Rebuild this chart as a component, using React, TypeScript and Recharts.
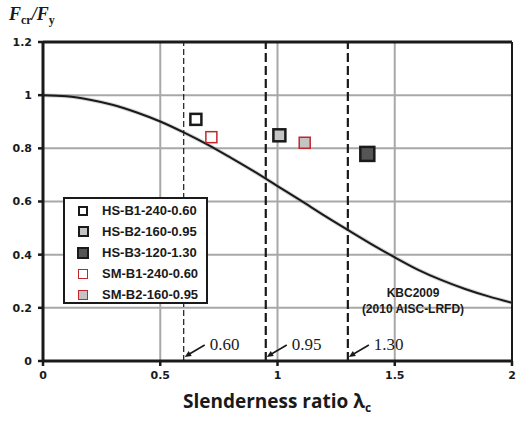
import React from "react";
import {
  ComposedChart,
  Line,
  Scatter,
  XAxis,
  YAxis,
  CartesianGrid,
  ReferenceLine,
  Label,
} from "recharts";

// design curve (KBC2009 / AISC-LRFD)
const lambdaC = [0, 0.1, 0.2, 0.3, 0.4, 0.5, 0.6, 0.7, 0.8, 0.9, 1.0, 1.1, 1.2, 1.3, 1.4, 1.5, 1.6, 1.7, 1.8, 1.9, 2.0];
const fcrRatio = [1.0, 0.996, 0.983, 0.963, 0.935, 0.901, 0.86, 0.815, 0.765, 0.713, 0.658, 0.603, 0.547, 0.493, 0.44, 0.39, 0.343, 0.304, 0.271, 0.243, 0.219];

// test specimens
const specimenNames = ["HS-B1-240-0.60", "HS-B2-160-0.95", "HS-B3-120-1.30", "SM-B1-240-0.60", "SM-B2-160-0.95"];
const specimenLambda = [0.652, 1.008, 1.383, 0.718, 1.116];
const specimenRatio = [0.909, 0.849, 0.779, 0.842, 0.821];

// target slenderness lines
const limitLambda = [0.6, 0.95, 1.3];
const limitLabels = ["0.60", "0.95", "1.30"];

const xTicks = [0, 0.5, 1, 1.5, 2];
const yTicks = [0, 0.2, 0.4, 0.6, 0.8, 1, 1.2];

const designCurve = lambdaC.map((x, i) => ({ x, y: fcrRatio[i] }));

const markerStyles = [
  { fill: "#ffffff", stroke: "#1a1a1a", sw: 2.5, size: 11, legendSize: 10 },
  { fill: "#c4c4c4", stroke: "#1a1a1a", sw: 2.5, size: 12, legendSize: 11 },
  { fill: "#555555", stroke: "#1a1a1a", sw: 2.5, size: 14, legendSize: 12 },
  { fill: "#ffffff", stroke: "#c0272d", sw: 1.5, size: 11, legendSize: 10 },
  { fill: "#c4c4c4", stroke: "#c0272d", sw: 1.5, size: 11, legendSize: 10 },
];

const tickStyle = { fill: "#1a1a1a", fontSize: 11, fontWeight: "bold", fontFamily: "DejaVu Sans" };

function squareShape(idx: number) {
  return (props: any) => {
    const s = markerStyles[idx];
    const { cx, cy } = props;
    return (
      <rect
        x={cx - s.size / 2}
        y={cy - s.size / 2}
        width={s.size}
        height={s.size}
        fill={s.fill}
        stroke={s.stroke}
        strokeWidth={s.sw}
      />
    );
  };
}

function limitLabel(text: string) {
  return (props: any) => {
    const vb = props.viewBox || {};
    const x = vb.x;
    const bottom = vb.y + vb.height;
    return (
      <g>
        <line x1={x + 21} y1={bottom - 16} x2={x + 4} y2={bottom - 6} stroke="#1a1a1a" strokeWidth={1.6} />
        <polygon
          points={`${x + 1},${bottom - 4} ${x + 8},${bottom - 5} ${x + 5},${bottom - 10}`}
          fill="#1a1a1a"
        />
        <text x={x + 26} y={bottom - 11} fontFamily="Liberation Serif" fontSize={17} fill="#1a1a1a">
          {text}
        </text>
      </g>
    );
  };
}

export default function App() {
  return (
    <div style={{ position: "absolute", left: 0, top: 0, width: 518, height: 421, background: "#fff" }}>
      <ComposedChart
        width={518}
        height={421}
        margin={{ top: 42, right: 6, bottom: 30, left: 0 }}
      >
        <CartesianGrid
          stroke="#a8a8a8"
          strokeWidth={2}
          horizontalValues={[0.2, 0.4, 0.6, 0.8, 1]}
          verticalValues={[0.5, 1, 1.5]}
        />
        <XAxis
          type="number"
          dataKey="x"
          domain={[0, 2]}
          ticks={xTicks}
          allowDataOverflow
          stroke="#1a1a1a"
          axisLine={{ strokeWidth: 3 }}
          tickLine={{ strokeWidth: 2.5 }}
          tickSize={5}
          tickMargin={5}
          tick={tickStyle}
          height={30}
        >
          <Label
            content={() => (
              <text
                x={277}
                y={408}
                textAnchor="middle"
                fontFamily="Open Sans"
                fontWeight="bold"
                fontSize={19}
                fill="#1a1a1a"
              >
                Slenderness ratio λ
                <tspan fontSize={12} dy={4}>c</tspan>
              </text>
            )}
          />
        </XAxis>
        <YAxis
          type="number"
          dataKey="y"
          domain={[0, 1.2]}
          ticks={yTicks}
          allowDataOverflow
          stroke="#1a1a1a"
          axisLine={{ strokeWidth: 3 }}
          tickLine={{ strokeWidth: 2.5 }}
          tickSize={5}
          tickMargin={6}
          tick={tickStyle}
          width={43}
        >
          <Label
            content={() => (
              <text
                x={9}
                y={20}
                fontFamily="Liberation Serif"
                fontWeight="bold"
                fontStyle="italic"
                fontSize={18}
                fill="#1a1a1a"
              >
                F<tspan fontSize={12} dy={4} fontStyle="normal">cr</tspan>
                <tspan dy={-4}>/F</tspan>
                <tspan fontSize={12} dy={4} fontStyle="normal">y</tspan>
              </text>
            )}
          />
        </YAxis>

        <ReferenceLine y={1.2} stroke="#1a1a1a" strokeWidth={3} />
        <ReferenceLine x={2} stroke="#1a1a1a" strokeWidth={2} />

        {limitLambda.map((v, i) => (
          <ReferenceLine
            key={v}
            x={v}
            stroke="#1a1a1a"
            strokeWidth={i === 0 ? 1.2 : 2.2}
            strokeDasharray={i === 0 ? "6 3" : "9 4"}
            label={limitLabel(limitLabels[i])}
          />
        ))}

        <Line
          data={designCurve}
          dataKey="y"
          type="monotone"
          stroke="#8a8a8a"
          strokeWidth={4}
          strokeOpacity={0.35}
          dot={false}
          activeDot={false}
          isAnimationActive={false}
        />
        <Line
          data={designCurve}
          dataKey="y"
          type="monotone"
          stroke="#1a1a1a"
          strokeWidth={2}
          dot={false}
          activeDot={false}
          isAnimationActive={false}
        />

        {specimenNames.map((name, i) => (
          <Scatter
            key={name}
            name={name}
            data={[{ x: specimenLambda[i], y: specimenRatio[i] }]}
            dataKey="y"
            shape={squareShape(i)}
            isAnimationActive={false}
          />
        ))}
      </ComposedChart>

      {/* legend box */}
      <div
        style={{
          position: "absolute",
          left: 63,
          top: 197,
          width: 141,
          height: 103,
          border: "2.5px solid #1a1a1a",
          background: "#fff",
        }}
      >
        {specimenNames.map((name, i) => {
          const s = markerStyles[i];
          return (
            <div
              key={name}
              style={{ position: "absolute", left: 0, top: 1.5 + i * 21, height: 21, width: 141 }}
            >
              <div
                style={{
                  position: "absolute",
                  left: 18 - s.legendSize / 2,
                  top: 10 - s.legendSize / 2,
                  width: s.legendSize - (i < 3 ? 4 : 2),
                  height: s.legendSize - (i < 3 ? 4 : 2),
                  background: s.fill,
                  border: `${i < 3 ? 2 : 1}px solid ${s.stroke}`,
                }}
              />
              <div
                style={{
                  position: "absolute",
                  left: 37,
                  top: 2,
                  fontFamily: "Liberation Sans",
                  fontWeight: "bold",
                  fontSize: 13,
                  lineHeight: "16px",
                  color: "#1a1a1a",
                  whiteSpace: "nowrap",
                }}
              >
                {name}
              </div>
            </div>
          );
        })}
      </div>

      {/* design code note */}
      <div
        style={{
          position: "absolute",
          left: 353,
          top: 285,
          width: 120,
          textAlign: "center",
          fontFamily: "Liberation Sans",
          fontWeight: "bold",
          fontSize: 12,
          lineHeight: "16px",
          color: "#1a1a1a",
        }}
      >
        KBC2009
        <br />
        (2010 AISC-LRFD)
      </div>
    </div>
  );
}
